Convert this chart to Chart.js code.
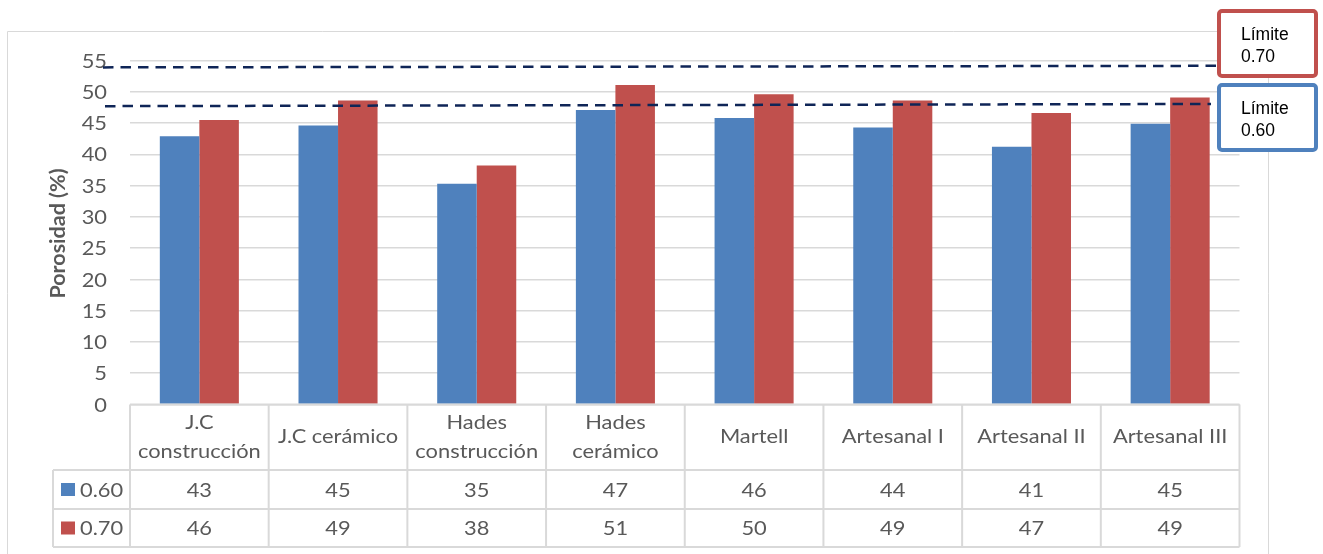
<!DOCTYPE html>
<html>
<head>
<meta charset="utf-8">
<script src="https://cdn.jsdelivr.net/npm/chart.js@4.4.0/dist/chart.umd.min.js"></script>
<style>
  html, body { margin: 0; padding: 0; background: #fff; }
  canvas { display: block; }
</style>
</head>
<body>
<canvas id="porosidadChart" width="1323" height="554"></canvas>
<script>
// Categorías (cada una puede ir en varias líneas en la tabla de datos)
const categorias = [
  ['J.C', 'construcción'],
  'J.C cerámico',
  ['Hades', 'construcción'],
  ['Hades', 'cerámico'],
  'Martell',
  'Artesanal I',
  'Artesanal II',
  'Artesanal III'
];

// Porosidad (%) por relación a/c
const serie060 = [42.9, 44.6, 35.3, 47.1, 45.8, 44.3, 41.2, 44.9];
const serie070 = [45.5, 48.6, 38.2, 51.1, 49.6, 48.6, 46.6, 49.1];

// Ticks del eje Y
const ticksY = [0, 5, 10, 15, 20, 25, 30, 35, 40, 45, 50, 55];

// Líneas de límite (valor al inicio y al final de la línea)
const limite060 = [47.7, 48.05];
const limite070 = [53.9, 54.15];

const AZUL = '#4F81BD';
const ROJO = '#C0504D';
const GRIS = '#D9D9D9';
const TEXTO = '#595959';
const FUENTE = '19px Lato';
const SX = 1.15; // el original está algo estirado en horizontal

// texto con estiramiento horizontal
function texto(c, t, x, y, align) {
  c.save();
  c.translate(x, y);
  c.scale(SX, 1);
  c.textAlign = align || 'center';
  c.fillText(t, 0, 0);
  c.restore();
}

// Marco exterior del gráfico
const marco = {
  id: 'marco',
  beforeDraw(chart) {
    const c = chart.ctx;
    c.save();
    c.strokeStyle = GRIS;
    c.lineWidth = 1;
    c.beginPath();
    c.moveTo(7.5, 560);
    c.lineTo(7.5, 31.5);
    c.lineTo(1268.5, 31.5);
    c.lineTo(1268.5, 560);
    c.stroke();
    c.restore();
  }
};

// Etiquetas y título del eje Y
const ejeY = {
  id: 'ejeY',
  afterDraw(chart) {
    const c = chart.ctx;
    const y = chart.scales.y;
    const area = chart.chartArea;
    c.save();
    c.fillStyle = TEXTO;
    c.font = FUENTE;
    c.textBaseline = 'middle';
    ticksY.forEach(v => texto(c, String(v), 107, y.getPixelForValue(v) + 1, 'right'));
    c.translate(58, (area.top + area.bottom) / 2 + 1);
    c.rotate(-Math.PI / 2);
    c.font = 'bold 21.5px Lato';
    c.textAlign = 'center';
    c.fillText('Porosidad (%)', 0, 0);
    c.restore();
  }
};

// Tabla de datos debajo del gráfico
const tablaDatos = {
  id: 'tablaDatos',
  afterDraw(chart) {
    const c = chart.ctx;
    const x = chart.scales.x;
    const area = chart.chartArea;
    const n = categorias.length;
    const w = (area.right - area.left) / n;
    const y0 = area.bottom;
    const y1 = 470, y2 = 509, y3 = 547;
    const legIzq = 53;

    c.save();
    c.strokeStyle = GRIS;
    c.lineWidth = 2;
    c.beginPath();
    // horizontales
    c.moveTo(area.left, y0); c.lineTo(area.right, y0);
    c.moveTo(legIzq, y1); c.lineTo(area.right, y1);
    c.moveTo(legIzq, y2); c.lineTo(area.right, y2);
    c.moveTo(legIzq, y3); c.lineTo(area.right, y3);
    // verticales
    c.moveTo(legIzq, y1); c.lineTo(legIzq, y3);
    for (let i = 0; i <= n; i++) {
      const xx = area.left + i * w;
      c.moveTo(xx, y0); c.lineTo(xx, y3);
    }
    c.stroke();

    c.fillStyle = TEXTO;
    c.font = FUENTE;
    c.textBaseline = 'middle';
    const filas = [serie060, serie070];
    categorias.forEach((cat, i) => {
      const cx = x.getPixelForValue(i);
      const lineas = Array.isArray(cat) ? cat : [cat];
      const cy = (y0 + y1) / 2;
      lineas.forEach((l, j) => {
        texto(c, l, cx, cy + (j - (lineas.length - 1) / 2) * 29);
      });
      texto(c, String(Math.round(filas[0][i])), cx, (y1 + y2) / 2 + 1);
      texto(c, String(Math.round(filas[1][i])), cx, (y2 + y3) / 2 + 1);
    });

    // leyenda
    chart.data.datasets.forEach((ds, k) => {
      const cy = k === 0 ? (y1 + y2) / 2 : (y2 + y3) / 2;
      c.fillStyle = ds.backgroundColor;
      c.fillRect(61, cy - 6.5, 14, 13);
      c.fillStyle = TEXTO;
      texto(c, ds.label, 80, cy + 1, 'left');
    });
    c.restore();
  }
};

// Recuadros y líneas de límite
const limites = {
  id: 'limites',
  afterDraw(chart) {
    const c = chart.ctx;
    const y = chart.scales.y;
    const cajas = [
      { top: 9, color: ROJO, texto: ['Límite', '0.70'] },
      { top: 83, color: AZUL, texto: ['Límite', '0.60'] }
    ];
    c.save();
    cajas.forEach(b => {
      c.fillStyle = '#fff';
      c.fillRect(1217, b.top, 101, 69);
      c.strokeStyle = b.color;
      c.lineWidth = 4;
      c.beginPath();
      c.roundRect(1219, b.top + 2, 97, 65, 3);
      c.stroke();
      c.fillStyle = '#000';
      c.font = '17.5px "Liberation Sans"';
      c.textAlign = 'left';
      c.textBaseline = 'alphabetic';
      c.fillText(b.texto[0], 1241, b.top + 31);
      c.fillText(b.texto[1], 1241, b.top + 53);
    });

    const lineas = [
      { v: limite070, x0: 103, x1: 1223 },
      { v: limite060, x0: 105, x1: 1211 }
    ];
    c.strokeStyle = '#0F2557';
    c.lineWidth = 2.5;
    c.setLineDash([10.5, 7]);
    lineas.forEach(l => {
      c.beginPath();
      c.moveTo(l.x0, y.getPixelForValue(l.v[0]));
      c.lineTo(l.x1, y.getPixelForValue(l.v[1]));
      c.stroke();
    });
    c.restore();
  }
};

new Chart(document.getElementById('porosidadChart'), {
  type: 'bar',
  data: {
    labels: categorias,
    datasets: [
      { label: '0.60', data: serie060, backgroundColor: AZUL },
      { label: '0.70', data: serie070, backgroundColor: ROJO }
    ]
  },
  options: {
    responsive: false,
    animation: false,
    layout: { padding: { top: 60.5, bottom: 149.5, left: 0, right: 83.5 } },
    datasets: {
      bar: { categoryPercentage: 0.57, barPercentage: 1 }
    },
    plugins: {
      legend: { display: false },
      tooltip: { enabled: false }
    },
    scales: {
      x: { display: false },
      y: {
        min: 0,
        max: 55,
        afterFit(scale) { scale.width = 130; },
        afterBuildTicks(scale) { scale.ticks = ticksY.map(v => ({ value: v })); },
        border: { display: false },
        grid: { color: GRIS, lineWidth: 1.5, drawTicks: false },
        ticks: { display: false },
        title: { display: false }
      }
    }
  },
  plugins: [marco, ejeY, tablaDatos, limites]
});
</script>
</body>
</html>
